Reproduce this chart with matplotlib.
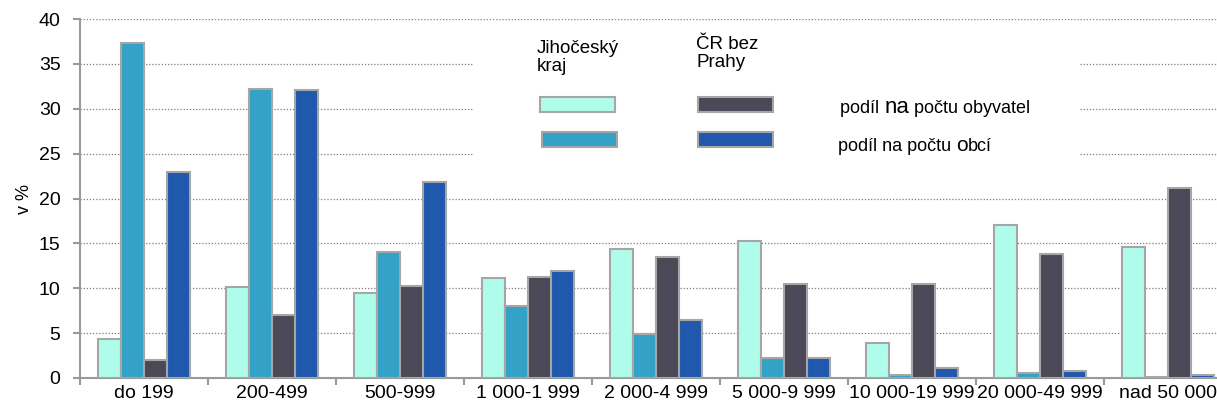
import matplotlib
import matplotlib.pyplot as plt
from matplotlib.patches import Rectangle
import numpy as np

matplotlib.use("Agg")
plt.rcParams["font.family"] = ["Liberation Sans", "DejaVu Sans"]

categories = ["do 199", "200-499", "500-999", "1 000-1 999", "2 000-4 999",
              "5 000-9 999", "10 000-19 999", "20 000-49 999", "nad 50 000"]
# Jihočeský kraj
jc_obyvatel = [4.3, 10.1, 9.5, 11.1, 14.4, 15.3, 3.9, 17.1, 14.6]
jc_obci = [37.3, 32.2, 14.0, 8.0, 4.9, 2.2, 0.3, 0.55, 0.15]
# ČR bez Prahy
cr_obyvatel = [2.0, 7.0, 10.25, 11.3, 13.5, 10.5, 10.5, 13.8, 21.2]
cr_obci = [23.0, 32.1, 21.8, 11.9, 6.5, 2.2, 1.15, 0.8, 0.3]

colors = ["#B0FCEA", "#33A2C6", "#4B4858", "#1F58AC"]
edge = "#A6A6A6"
W, H = 1217, 409

fig = plt.figure(figsize=(W / 100, H / 100), dpi=100)
ax = fig.add_axes([80 / W, 31 / H, 1152 / W, 359 / H])

x = np.arange(len(categories)) + 0.5
bw = 0.18
series = [jc_obyvatel, jc_obci, cr_obyvatel, cr_obci]
for i, vals in enumerate(series):
    ax.bar(x + (i - 1.5) * bw, vals, width=bw, color=colors[i],
           edgecolor=edge, linewidth=1.5, zorder=3)

ax.set_xlim(0, len(categories))
ax.set_ylim(0, 40)
ax.set_yticks(np.arange(0, 41, 5))
ax.set_xticks(np.arange(0, len(categories) + 1))
ax.set_xticklabels([])
ax.set_xticks(x, minor=True)
ax.set_xticklabels(categories, minor=True, fontsize=14)
ax.tick_params(axis="x", which="minor", length=0, pad=5)
ax.tick_params(axis="x", which="major", length=5, color="#999999", width=1.5)
ax.tick_params(axis="y", length=5, color="#999999", width=1.5, labelsize=14, pad=9)

for s in ["top", "right"]:
    ax.spines[s].set_visible(False)
for s in ["left", "bottom"]:
    ax.spines[s].set_color("#999999")
    ax.spines[s].set_linewidth(1.5)

ax.yaxis.grid(True, linestyle=(0, (1, 1.5)), color="#7F7F7F", linewidth=0.9)
ax.set_axisbelow(True)
ax.set_ylabel("v %", fontsize=13, labelpad=4)

# white legend box covering gridlines
fig.patches.append(Rectangle((473 / W, 1 - 192 / H), (1080 - 473) / W, (192 - 24) / H,
                             transform=fig.transFigure, facecolor="white",
                             edgecolor="none", zorder=1))
ax.set_zorder(0)
ax.patch.set_visible(False)


def fx(px):
    return px / W


def fy(py):
    return 1 - py / H


def pieces(px, py, parts):
    # write text parts one after another, each with its own size
    renderer = fig.canvas.get_renderer()
    cur = px
    for s, size in parts:
        t = fig.text(fx(cur), fy(py), s, fontsize=size, va="baseline",
                     ha="left", zorder=5)
        bb = t.get_window_extent(renderer=renderer)
        cur += bb.width


pieces(537, 53, [("Jihočeský", 13.5)])
pieces(537, 71, [("kraj", 13.5)])
pieces(696, 49, [("ČR bez", 13.5)])
pieces(696, 67, [("Prahy", 13.5)])

patches = [(540, 97, colors[0]), (698, 97, colors[2]),
           (542, 132, colors[1]), (698, 132, colors[3])]
for px, py, c in patches:
    fig.patches.append(Rectangle((fx(px), fy(py + 15)), 75 / W, 15 / H,
                                 transform=fig.transFigure, facecolor=c,
                                 edgecolor=edge, linewidth=1.5, zorder=5))

pieces(840, 113, [("podíl ", 13), ("na", 16), (" počtu obyvatel", 13)])
pieces(838, 151, [("podíl na počtu ", 13), ("o", 15), ("bcí", 13)])

fig.savefig("out.png", dpi=100)
